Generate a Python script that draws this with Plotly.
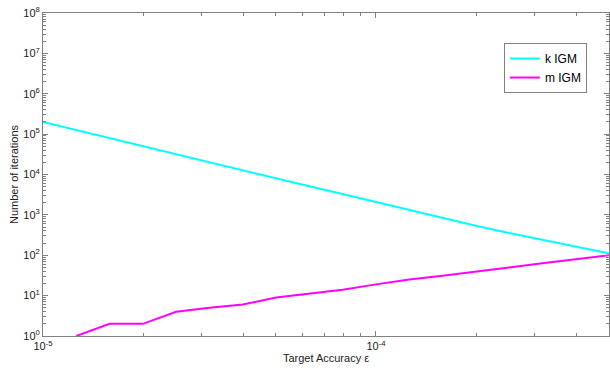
import plotly.graph_objects as go

# Target accuracy values (log-spaced, 10 per decade)
eps = [1.0e-5, 1.259e-5, 1.585e-5, 1.995e-5, 2.512e-5, 3.162e-5, 3.981e-5, 5.012e-5,
       6.310e-5, 7.943e-5, 1.0e-4, 1.259e-4, 1.585e-4, 1.995e-4, 2.512e-4, 3.162e-4,
       3.981e-4, 5.012e-4]
k_igm = [2.0e5, 1.26e5, 7.9e4, 5.0e4, 3.2e4, 2.0e4, 1.29e4, 8.1e3, 5.1e3, 3.3e3,
         2.1e3, 1.3e3, 850, 540, 355, 240, 162, 112]
m_igm = [None, 1, 2, 2, 4, 5, 6, 9, 11, 14, 19, 25, 31, 40, 50, 63, 80, 100]

y_tick_vals = [10.0 ** p for p in range(0, 9)]
y_tick_text = ["10<sup>%d</sup>" % p for p in range(0, 9)]
x_tick_vals = [1e-5, 1e-4]
x_tick_text = ["10<sup>-5</sup>", "10<sup>-4</sup>"]

y_minor = [m * 10.0 ** p for p in range(0, 8) for m in range(2, 10)]
x_minor = [m * 10.0 ** p for p in (-5, -4) for m in range(2, 10)]

FONT = "Liberation Sans, Arial"

fig = go.Figure()
fig.add_trace(go.Scatter(x=eps, y=k_igm, mode="lines", name="k IGM",
                         line=dict(color="#00FFFF", width=2)))
fig.add_trace(go.Scatter(x=eps, y=m_igm, mode="lines", name="m IGM",
                         line=dict(color="#FF00FF", width=2)))

axis_common = dict(
    showgrid=False, zeroline=False, showline=True, linecolor="#808080", linewidth=1,
    mirror="allticks", ticks="inside", ticklen=5, tickcolor="#808080",
    tickfont=dict(family=FONT, size=11, color="#222222"), automargin=False,
)

fig.update_xaxes(type="log", range=[-5, -3.3], tickvals=x_tick_vals, ticktext=x_tick_text,
                 minor=dict(tickvals=x_minor, ticks="inside", ticklen=3, tickcolor="#808080"),
                 title=dict(text="Target Accuracy ε", standoff=0,
                            font=dict(family=FONT, size=11, color="#222222")),
                 **axis_common)
fig.update_yaxes(type="log", range=[0, 8], tickvals=y_tick_vals, ticktext=y_tick_text,
                 minor=dict(tickvals=y_minor, ticks="inside", ticklen=3, tickcolor="#808080"),
                 title=dict(text="Number of iterations", standoff=2,
                            font=dict(family=FONT, size=11, color="#222222")),
                 **axis_common)

fig.update_layout(
    width=610, height=370,
    margin=dict(l=43, r=1, t=13, b=34),
    paper_bgcolor="white", plot_bgcolor="white",
    showlegend=True,
    legend=dict(x=0.961, y=0.907, xanchor="right", yanchor="top",
                bgcolor="white", bordercolor="#808080", borderwidth=1,
                font=dict(family=FONT, size=12, color="black"),
                tracegroupgap=0, itemwidth=30),
)

fig.write_html("out.html", config={"displayModeBar": False},
               post_script="document.body.style.margin='0';document.body.style.overflow='hidden';")
